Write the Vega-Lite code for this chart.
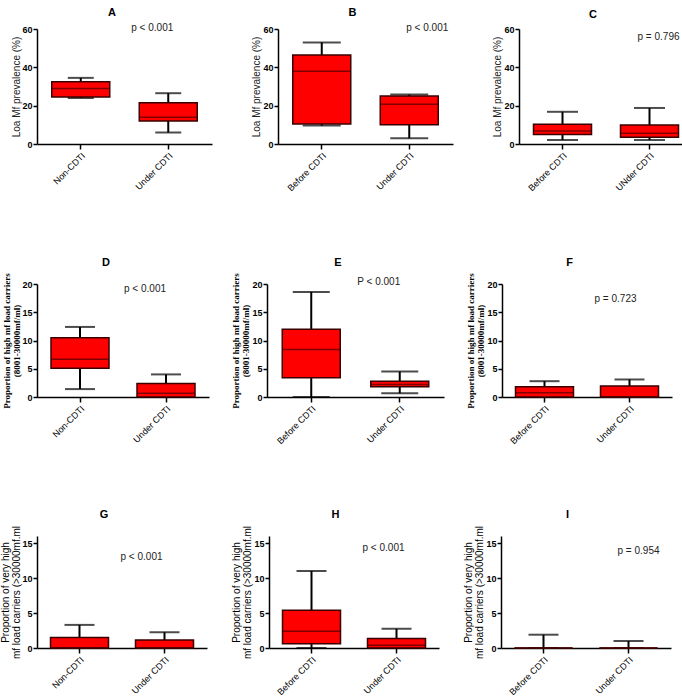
{
  "$schema": "https://vega.github.io/schema/vega-lite/v6.json",
  "padding": {"left": 0, "top": 7, "right": 0, "bottom": 0},
  "background": "white",
  "spacing": 63,
  "datasets": {
    "boxes": [
      {"panel": "A", "group": "Non-CDTI", "min": 24, "q1": 24.5, "median": 29, "q3": 32.5, "max": 34.5},
      {"panel": "A", "group": "Under CDTI", "min": 6, "q1": 12, "median": 14, "q3": 21.5, "max": 26.5},
      {"panel": "B", "group": "Before CDTI", "min": 9.6, "q1": 10.5, "median": 38, "q3": 46.5, "max": 53},
      {"panel": "B", "group": "Under CDTI", "min": 3, "q1": 10, "median": 20.7, "q3": 25.1, "max": 25.8},
      {"panel": "C", "group": "Before CDTI", "min": 2.1, "q1": 5, "median": 6.8, "q3": 10.3, "max": 16.8},
      {"panel": "C", "group": "UNder CDTI", "min": 2.1, "q1": 3.5, "median": 5.6, "q3": 9.9, "max": 18.8},
      {"panel": "D", "group": "Non-CDTI", "min": 1.4, "q1": 5.1, "median": 6.7, "q3": 10.5, "max": 12.4},
      {"panel": "D", "group": "Under CDTI", "min": 0, "q1": 0, "median": 0.65, "q3": 2.4, "max": 4.0},
      {"panel": "E", "group": "Before CDTI", "min": 0, "q1": 3.4, "median": 8.4, "q3": 12.0, "max": 18.6},
      {"panel": "E", "group": "Under CDTI", "min": 0.65, "q1": 1.8, "median": 2.2, "q3": 2.8, "max": 4.5},
      {"panel": "F", "group": "Before CDTI", "min": 0, "q1": 0, "median": 0.77, "q3": 1.8, "max": 2.8},
      {"panel": "F", "group": "Under CDTI", "min": 0, "q1": 0, "median": 0, "q3": 1.95, "max": 3.1},
      {"panel": "G", "group": "Non-CDTI", "min": 0, "q1": 0, "median": 0, "q3": 1.5, "max": 3.3},
      {"panel": "G", "group": "Under CDTI", "min": 0, "q1": 0, "median": 0, "q3": 1.15, "max": 2.25},
      {"panel": "H", "group": "Before CDTI", "min": 0, "q1": 0.6, "median": 2.4, "q3": 5.4, "max": 11.0},
      {"panel": "H", "group": "Under CDTI", "min": 0, "q1": 0, "median": 0.4, "q3": 1.35, "max": 2.75},
      {"panel": "I", "group": "Before CDTI", "min": 0, "q1": 0, "median": 0, "q3": 0, "max": 1.9},
      {"panel": "I", "group": "Under CDTI", "min": 0, "q1": 0, "median": 0, "q3": 0, "max": 1.0}
    ],
    "pvals": [
      {"panel": "A", "label": "p < 0.001"},
      {"panel": "B", "label": "p < 0.001"},
      {"panel": "C", "label": "p = 0.796"},
      {"panel": "D", "label": "p < 0.001"},
      {"panel": "E", "label": "P < 0.001"},
      {"panel": "F", "label": "p = 0.723"},
      {"panel": "G", "label": "p < 0.001"},
      {"panel": "H", "label": "p < 0.001"},
      {"panel": "I", "label": "p = 0.954"}
    ]
  },
  "config": {
    "view": {"stroke": null},
    "font": "Liberation Sans",
    "title": {"frame": "bounds", "anchor": "middle", "fontSize": 11, "fontWeight": "bold", "color": "black", "offset": 5},
    "axisY": {"grid": false, "domainColor": "black", "domainWidth": 1.5, "tickColor": "black", "tickWidth": 1.5, "tickSize": 4, "labelFontWeight": "bold", "labelFontSize": 9, "labelColor": "black", "labelPadding": 1, "labelOverlap": false, "labelFlush": false, "titleFontWeight": "normal", "titleFontSize": 10, "titleColor": "#222", "titlePadding": 1},
    "axisX": {"grid": false, "domainColor": "black", "domainWidth": 1.5, "tickColor": "black", "tickWidth": 1.5, "tickSize": 5, "labelAngle": -45, "labelFontSize": 9, "labelColor": "black", "title": null, "labelPadding": 2},
    "concat": {"spacing": 24}
  },
  "vconcat": [
    {"spacing": 39, "hconcat": [
      {"width": 175, "height": 115, "title": "A", "data": {"name": "boxes"}, "transform": [{"filter": "datum.panel === 'A'"}],
       "encoding": {"x": {"field": "group", "type": "nominal", "sort": null, "scale": {"paddingInner": 0, "paddingOuter": 0}}},
       "layer": [
        {"mark": {"type": "rule", "stroke": "black", "strokeWidth": 2}, "encoding": {"y": {"field": "min", "type": "quantitative", "scale": {"domain": [0, 60]}, "axis": {"values": [0, 20, 40, 60], "title": "Loa Mf prevalence (%)", "titlePadding": 0}}, "y2": {"field": "max"}}},
        {"mark": {"type": "tick", "orient": "horizontal", "size": 26, "thickness": 2, "color": "black"}, "encoding": {"y": {"field": "min", "type": "quantitative", "axis": {"values": [0, 20, 40, 60], "title": "Loa Mf prevalence (%)"}}}},
        {"mark": {"type": "tick", "orient": "horizontal", "size": 26, "thickness": 2, "color": "black"}, "encoding": {"y": {"field": "max", "type": "quantitative", "axis": {"values": [0, 20, 40, 60], "title": "Loa Mf prevalence (%)"}}}},
        {"mark": {"type": "bar", "size": 58, "fill": "#ff0000", "stroke": "#3a0000", "strokeWidth": 1.5}, "encoding": {"y": {"field": "q1", "type": "quantitative", "axis": {"values": [0, 20, 40, 60], "title": "Loa Mf prevalence (%)"}}, "y2": {"field": "q3"}}},
        {"mark": {"type": "tick", "orient": "horizontal", "size": 58, "thickness": 1.5, "color": "#4a0000"}, "encoding": {"y": {"field": "median", "type": "quantitative", "axis": {"values": [0, 20, 40, 60], "title": "Loa Mf prevalence (%)"}}}},
        {"data": {"name": "pvals"}, "transform": [{"filter": "datum.panel === 'A'"}], "mark": {"type": "text", "fontSize": 10, "color": "#222", "baseline": "middle", "dx": -16}, "encoding": {"x": {"datum": "Under CDTI"}, "y": {"datum": 60.5, "axis": {"values": [0, 20, 40, 60], "title": "Loa Mf prevalence (%)"}}, "text": {"field": "label"}}}
       ]},
      {"width": 175, "height": 115, "title": "B", "data": {"name": "boxes"}, "transform": [{"filter": "datum.panel === 'B'"}],
       "encoding": {"x": {"field": "group", "type": "nominal", "sort": null, "scale": {"paddingInner": 0, "paddingOuter": 0}}},
       "layer": [
        {"mark": {"type": "rule", "stroke": "black", "strokeWidth": 2}, "encoding": {"y": {"field": "min", "type": "quantitative", "scale": {"domain": [0, 60]}, "axis": {"values": [0, 20, 40, 60], "title": "Loa Mf prevalence (%)"}}, "y2": {"field": "max"}}},
        {"mark": {"type": "tick", "orient": "horizontal", "size": 38, "thickness": 2, "color": "black"}, "encoding": {"y": {"field": "min", "type": "quantitative", "axis": {"values": [0, 20, 40, 60], "title": "Loa Mf prevalence (%)"}}}},
        {"mark": {"type": "tick", "orient": "horizontal", "size": 38, "thickness": 2, "color": "black"}, "encoding": {"y": {"field": "max", "type": "quantitative", "axis": {"values": [0, 20, 40, 60], "title": "Loa Mf prevalence (%)"}}}},
        {"mark": {"type": "bar", "size": 58, "fill": "#ff0000", "stroke": "#3a0000", "strokeWidth": 1.5}, "encoding": {"y": {"field": "q1", "type": "quantitative", "axis": {"values": [0, 20, 40, 60], "title": "Loa Mf prevalence (%)"}}, "y2": {"field": "q3"}}},
        {"mark": {"type": "tick", "orient": "horizontal", "size": 58, "thickness": 1.5, "color": "#4a0000"}, "encoding": {"y": {"field": "median", "type": "quantitative", "axis": {"values": [0, 20, 40, 60], "title": "Loa Mf prevalence (%)"}}}},
        {"data": {"name": "pvals"}, "transform": [{"filter": "datum.panel === 'B'"}], "mark": {"type": "text", "fontSize": 10, "color": "#222", "baseline": "middle", "dx": 18}, "encoding": {"x": {"datum": "Under CDTI"}, "y": {"datum": 60.5, "axis": {"values": [0, 20, 40, 60], "title": "Loa Mf prevalence (%)"}}, "text": {"field": "label"}}}
       ]},
      {"width": 174, "height": 115, "title": "C", "data": {"name": "boxes"}, "transform": [{"filter": "datum.panel === 'C'"}],
       "encoding": {"x": {"field": "group", "type": "nominal", "sort": null, "scale": {"paddingInner": 0, "paddingOuter": 0}}},
       "layer": [
        {"mark": {"type": "rule", "stroke": "black", "strokeWidth": 2}, "encoding": {"y": {"field": "min", "type": "quantitative", "scale": {"domain": [0, 60]}, "axis": {"values": [0, 20, 40, 60], "title": "Loa Mf prevalence (%)"}}, "y2": {"field": "max"}}},
        {"mark": {"type": "tick", "orient": "horizontal", "size": 31, "thickness": 2, "color": "black"}, "encoding": {"y": {"field": "min", "type": "quantitative", "axis": {"values": [0, 20, 40, 60], "title": "Loa Mf prevalence (%)"}}}},
        {"mark": {"type": "tick", "orient": "horizontal", "size": 31, "thickness": 2, "color": "black"}, "encoding": {"y": {"field": "max", "type": "quantitative", "axis": {"values": [0, 20, 40, 60], "title": "Loa Mf prevalence (%)"}}}},
        {"mark": {"type": "bar", "size": 58, "fill": "#ff0000", "stroke": "#3a0000", "strokeWidth": 1.5}, "encoding": {"y": {"field": "q1", "type": "quantitative", "axis": {"values": [0, 20, 40, 60], "title": "Loa Mf prevalence (%)"}}, "y2": {"field": "q3"}}},
        {"mark": {"type": "tick", "orient": "horizontal", "size": 58, "thickness": 1.5, "color": "#4a0000"}, "encoding": {"y": {"field": "median", "type": "quantitative", "axis": {"values": [0, 20, 40, 60], "title": "Loa Mf prevalence (%)"}}}},
        {"data": {"name": "pvals"}, "transform": [{"filter": "datum.panel === 'C'"}], "mark": {"type": "text", "fontSize": 10, "color": "#222", "baseline": "middle", "dx": 9}, "encoding": {"x": {"datum": "UNder CDTI"}, "y": {"datum": 55.8, "axis": {"values": [0, 20, 40, 60], "title": "Loa Mf prevalence (%)"}}, "text": {"field": "label"}}}
       ]}
    ]},
    {"spacing": 22, "hconcat": [
      {"width": 172, "height": 113, "title": "D", "data": {"name": "boxes"}, "transform": [{"filter": "datum.panel === 'D'"}],
       "encoding": {"x": {"field": "group", "type": "nominal", "sort": null, "scale": {"paddingInner": 0, "paddingOuter": 0}}},
       "layer": [
        {"mark": {"type": "rule", "stroke": "black", "strokeWidth": 2}, "encoding": {"y": {"field": "min", "type": "quantitative", "scale": {"domain": [0, 20]}, "axis": {"values": [0, 5, 10, 15, 20], "title": ["Proportion of high mf load carriers", "(8001-30000mf/ml)"], "titleFont": "Liberation Serif", "titleFontWeight": "bold", "titleFontSize": 9, "titleColor": "black", "titleLineHeight": 10, "titlePadding": 0}}, "y2": {"field": "max"}}},
        {"mark": {"type": "tick", "orient": "horizontal", "size": 30, "thickness": 2, "color": "black"}, "encoding": {"y": {"field": "min", "type": "quantitative", "axis": {"values": [0, 5, 10, 15, 20]}}}},
        {"mark": {"type": "tick", "orient": "horizontal", "size": 30, "thickness": 2, "color": "black"}, "encoding": {"y": {"field": "max", "type": "quantitative", "axis": {"values": [0, 5, 10, 15, 20]}}}},
        {"mark": {"type": "bar", "size": 58, "fill": "#ff0000", "stroke": "#3a0000", "strokeWidth": 1.5}, "encoding": {"y": {"field": "q1", "type": "quantitative", "axis": {"values": [0, 5, 10, 15, 20]}}, "y2": {"field": "q3"}}},
        {"mark": {"type": "tick", "orient": "horizontal", "size": 58, "thickness": 1.5, "color": "#4a0000"}, "encoding": {"y": {"field": "median", "type": "quantitative", "axis": {"values": [0, 5, 10, 15, 20]}}}},
        {"data": {"name": "pvals"}, "transform": [{"filter": "datum.panel === 'D'"}], "mark": {"type": "text", "fontSize": 10, "color": "#222", "baseline": "middle", "dx": -21}, "encoding": {"x": {"datum": "Under CDTI"}, "y": {"datum": 19.1, "axis": {"values": [0, 5, 10, 15, 20]}}, "text": {"field": "label"}}}
       ]},
      {"width": 177, "height": 113, "title": "E", "data": {"name": "boxes"}, "transform": [{"filter": "datum.panel === 'E'"}],
       "encoding": {"x": {"field": "group", "type": "nominal", "sort": null, "scale": {"paddingInner": 0, "paddingOuter": 0}}},
       "layer": [
        {"mark": {"type": "rule", "stroke": "black", "strokeWidth": 2}, "encoding": {"y": {"field": "min", "type": "quantitative", "scale": {"domain": [0, 20]}, "axis": {"values": [0, 5, 10, 15, 20], "title": ["Proportion of high mf load carriers", "(8001-30000mf/ml)"], "titleFont": "Liberation Serif", "titleFontWeight": "bold", "titleFontSize": 9, "titleColor": "black", "titleLineHeight": 10}}, "y2": {"field": "max"}}},
        {"mark": {"type": "tick", "orient": "horizontal", "size": 37, "thickness": 2, "color": "black"}, "encoding": {"y": {"field": "min", "type": "quantitative", "axis": {"values": [0, 5, 10, 15, 20]}}}},
        {"mark": {"type": "tick", "orient": "horizontal", "size": 37, "thickness": 2, "color": "black"}, "encoding": {"y": {"field": "max", "type": "quantitative", "axis": {"values": [0, 5, 10, 15, 20]}}}},
        {"mark": {"type": "bar", "size": 58, "fill": "#ff0000", "stroke": "#3a0000", "strokeWidth": 1.5}, "encoding": {"y": {"field": "q1", "type": "quantitative", "axis": {"values": [0, 5, 10, 15, 20]}}, "y2": {"field": "q3"}}},
        {"mark": {"type": "tick", "orient": "horizontal", "size": 58, "thickness": 1.5, "color": "#4a0000"}, "encoding": {"y": {"field": "median", "type": "quantitative", "axis": {"values": [0, 5, 10, 15, 20]}}}},
        {"data": {"name": "pvals"}, "transform": [{"filter": "datum.panel === 'E'"}], "mark": {"type": "text", "fontSize": 10, "color": "#222", "baseline": "middle", "dx": -21}, "encoding": {"x": {"datum": "Under CDTI"}, "y": {"datum": 20.4, "axis": {"values": [0, 5, 10, 15, 20]}}, "text": {"field": "label"}}}
       ]},
      {"width": 170, "height": 113, "title": "F", "data": {"name": "boxes"}, "transform": [{"filter": "datum.panel === 'F'"}],
       "encoding": {"x": {"field": "group", "type": "nominal", "sort": null, "scale": {"paddingInner": 0, "paddingOuter": 0}}},
       "layer": [
        {"mark": {"type": "rule", "stroke": "black", "strokeWidth": 2}, "encoding": {"y": {"field": "min", "type": "quantitative", "scale": {"domain": [0, 20]}, "axis": {"values": [0, 5, 10, 15, 20], "title": ["Proportion of high mf load carriers", "(8001-30000mf/ml)"], "titleFont": "Liberation Serif", "titleFontWeight": "bold", "titleFontSize": 9, "titleColor": "black", "titleLineHeight": 10}}, "y2": {"field": "max"}}},
        {"mark": {"type": "tick", "orient": "horizontal", "size": 30, "thickness": 2, "color": "black"}, "encoding": {"y": {"field": "min", "type": "quantitative", "axis": {"values": [0, 5, 10, 15, 20]}}}},
        {"mark": {"type": "tick", "orient": "horizontal", "size": 30, "thickness": 2, "color": "black"}, "encoding": {"y": {"field": "max", "type": "quantitative", "axis": {"values": [0, 5, 10, 15, 20]}}}},
        {"mark": {"type": "bar", "size": 58, "fill": "#ff0000", "stroke": "#3a0000", "strokeWidth": 1.5}, "encoding": {"y": {"field": "q1", "type": "quantitative", "axis": {"values": [0, 5, 10, 15, 20]}}, "y2": {"field": "q3"}}},
        {"mark": {"type": "tick", "orient": "horizontal", "size": 58, "thickness": 1.5, "color": "#4a0000"}, "encoding": {"y": {"field": "median", "type": "quantitative", "axis": {"values": [0, 5, 10, 15, 20]}}}},
        {"data": {"name": "pvals"}, "transform": [{"filter": "datum.panel === 'F'"}], "mark": {"type": "text", "fontSize": 10, "color": "#222", "baseline": "middle", "dx": -14}, "encoding": {"x": {"datum": "Under CDTI"}, "y": {"datum": 17.3, "axis": {"values": [0, 5, 10, 15, 20]}}, "text": {"field": "label"}}}
       ]}
    ]},
    {"spacing": 24, "hconcat": [
      {"width": 170, "height": 112, "title": "G", "data": {"name": "boxes"}, "transform": [{"filter": "datum.panel === 'G'"}],
       "encoding": {"x": {"field": "group", "type": "nominal", "sort": null, "scale": {"paddingInner": 0, "paddingOuter": 0}}},
       "layer": [
        {"mark": {"type": "rule", "stroke": "black", "strokeWidth": 2}, "encoding": {"y": {"field": "min", "type": "quantitative", "scale": {"domain": [0, 15]}, "axis": {"values": [0, 5, 10, 15], "title": ["Proportion of very high", "mf load carriers (>30000mf.ml"], "titleColor": "black", "titleLineHeight": 11, "titlePadding": 0}}, "y2": {"field": "max"}}},
        {"mark": {"type": "tick", "orient": "horizontal", "size": 30, "thickness": 2, "color": "black"}, "encoding": {"y": {"field": "min", "type": "quantitative", "axis": {"values": [0, 5, 10, 15]}}}},
        {"mark": {"type": "tick", "orient": "horizontal", "size": 30, "thickness": 2, "color": "black"}, "encoding": {"y": {"field": "max", "type": "quantitative", "axis": {"values": [0, 5, 10, 15]}}}},
        {"mark": {"type": "bar", "size": 58, "fill": "#ff0000", "stroke": "#3a0000", "strokeWidth": 1.5}, "encoding": {"y": {"field": "q1", "type": "quantitative", "axis": {"values": [0, 5, 10, 15]}}, "y2": {"field": "q3"}}},
        {"mark": {"type": "tick", "orient": "horizontal", "size": 58, "thickness": 1.5, "color": "#4a0000"}, "encoding": {"y": {"field": "median", "type": "quantitative", "axis": {"values": [0, 5, 10, 15]}}}},
        {"data": {"name": "pvals"}, "transform": [{"filter": "datum.panel === 'G'"}], "mark": {"type": "text", "fontSize": 10, "color": "#222", "baseline": "middle", "dx": -23}, "encoding": {"x": {"datum": "Under CDTI"}, "y": {"datum": 13, "axis": {"values": [0, 5, 10, 15]}}, "text": {"field": "label"}}}
       ]},
      {"width": 170, "height": 112, "title": "H", "data": {"name": "boxes"}, "transform": [{"filter": "datum.panel === 'H'"}],
       "encoding": {"x": {"field": "group", "type": "nominal", "sort": null, "scale": {"paddingInner": 0, "paddingOuter": 0}}},
       "layer": [
        {"mark": {"type": "rule", "stroke": "black", "strokeWidth": 2}, "encoding": {"y": {"field": "min", "type": "quantitative", "scale": {"domain": [0, 15]}, "axis": {"values": [0, 5, 10, 15], "title": ["Proportion of very high", "mf load carriers (>30000mf.ml"], "titleColor": "black", "titleLineHeight": 11}}, "y2": {"field": "max"}}},
        {"mark": {"type": "tick", "orient": "horizontal", "size": 30, "thickness": 2, "color": "black"}, "encoding": {"y": {"field": "min", "type": "quantitative", "axis": {"values": [0, 5, 10, 15]}}}},
        {"mark": {"type": "tick", "orient": "horizontal", "size": 30, "thickness": 2, "color": "black"}, "encoding": {"y": {"field": "max", "type": "quantitative", "axis": {"values": [0, 5, 10, 15]}}}},
        {"mark": {"type": "bar", "size": 58, "fill": "#ff0000", "stroke": "#3a0000", "strokeWidth": 1.5}, "encoding": {"y": {"field": "q1", "type": "quantitative", "axis": {"values": [0, 5, 10, 15]}}, "y2": {"field": "q3"}}},
        {"mark": {"type": "tick", "orient": "horizontal", "size": 58, "thickness": 1.5, "color": "#4a0000"}, "encoding": {"y": {"field": "median", "type": "quantitative", "axis": {"values": [0, 5, 10, 15]}}}},
        {"data": {"name": "pvals"}, "transform": [{"filter": "datum.panel === 'H'"}], "mark": {"type": "text", "fontSize": 10, "color": "#222", "baseline": "middle", "dx": -13}, "encoding": {"x": {"datum": "Under CDTI"}, "y": {"datum": 14.3, "axis": {"values": [0, 5, 10, 15]}}, "text": {"field": "label"}}}
       ]},
      {"width": 170, "height": 112, "title": "I", "data": {"name": "boxes"}, "transform": [{"filter": "datum.panel === 'I'"}],
       "encoding": {"x": {"field": "group", "type": "nominal", "sort": null, "scale": {"paddingInner": 0, "paddingOuter": 0}}},
       "layer": [
        {"mark": {"type": "rule", "stroke": "black", "strokeWidth": 2}, "encoding": {"y": {"field": "min", "type": "quantitative", "scale": {"domain": [0, 15]}, "axis": {"values": [0, 5, 10, 15], "title": ["Proportion of very high", "mf load carriers (>30000mf.ml"], "titleColor": "black", "titleLineHeight": 11}}, "y2": {"field": "max"}}},
        {"mark": {"type": "tick", "orient": "horizontal", "size": 30, "thickness": 2, "color": "black"}, "encoding": {"y": {"field": "min", "type": "quantitative", "axis": {"values": [0, 5, 10, 15]}}}},
        {"mark": {"type": "tick", "orient": "horizontal", "size": 30, "thickness": 2, "color": "black"}, "encoding": {"y": {"field": "max", "type": "quantitative", "axis": {"values": [0, 5, 10, 15]}}}},
        {"mark": {"type": "bar", "size": 58, "fill": "#ff0000", "stroke": "#3a0000", "strokeWidth": 1.5}, "encoding": {"y": {"field": "q1", "type": "quantitative", "axis": {"values": [0, 5, 10, 15]}}, "y2": {"field": "q3"}}},
        {"mark": {"type": "tick", "orient": "horizontal", "size": 58, "thickness": 1.5, "color": "#4a0000"}, "encoding": {"y": {"field": "median", "type": "quantitative", "axis": {"values": [0, 5, 10, 15]}}}},
        {"data": {"name": "pvals"}, "transform": [{"filter": "datum.panel === 'I'"}], "mark": {"type": "text", "fontSize": 10, "color": "#222", "baseline": "middle", "dx": 10}, "encoding": {"x": {"datum": "Under CDTI"}, "y": {"datum": 13.8, "axis": {"values": [0, 5, 10, 15]}}, "text": {"field": "label"}}}
       ]}
    ]}
  ]
}
